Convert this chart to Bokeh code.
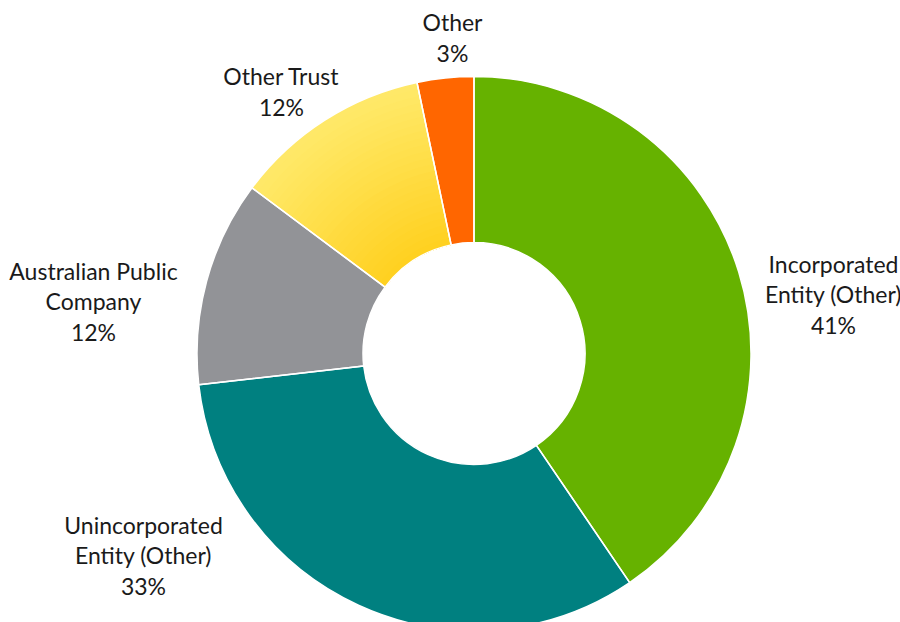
import math
from bokeh.plotting import figure
from bokeh.models import ColumnDataSource
from bokeh.core.properties import value
from bokeh.embed import file_html
from bokeh.resources import INLINE

# ---- data ----
categories = ["Incorporated\nEntity (Other)", "Unincorporated\nEntity (Other)",
              "Australian Public\nCompany", "Other Trust", "Other"]
shares = [40.5, 32.7, 12.0, 11.5, 3.3]
pct_labels = ["41%", "33%", "12%", "12%", "3%"]
colors = ["#66B200", "#008080", "#929397", "#FFE868", "#FF6600"]

# ---- layout (pixels) ----
W, H = 900, 622
CX, CY = 473.5, 353.0          # donut centre in window pixels
R_OUT, R_IN = 277, 111
label_pos = [(833, 294), (143, 555), (93, 301), (281, 91), (452, 37)]

def dx(px):
    return px - CX

def dy(py):
    return CY - py

p = figure(width=W, height=H, output_backend="svg", toolbar_location=None,
           x_range=(dx(0), dx(W)), y_range=(dy(H), dy(0)),
           min_border=0, outline_line_color=None)
p.axis.visible = False
p.grid.visible = False
p.background_fill_color = "white"
p.border_fill_color = "white"

total = sum(shares)
starts, ends = [], []
acc = 0.0
for s in shares:
    starts.append(math.pi / 2 - 2 * math.pi * acc / total)
    acc += s
    ends.append(math.pi / 2 - 2 * math.pi * acc / total)

src = ColumnDataSource(dict(x=[0] * len(shares), y=[0] * len(shares),
                            start=starts, end=ends, color=colors))
p.annular_wedge(x="x", y="y", inner_radius=R_IN, outer_radius=R_OUT,
                start_angle="start", end_angle="end", direction="clock",
                fill_color="color", line_color=None, source=src)

# gradient on the "Other Trust" slice (light outside -> deeper yellow inside)
k = 3
light = (255, 234, 106)
dark = (255, 208, 30)
n = 24
for i in range(1, n + 1):
    t = i / n
    r = R_OUT - (R_OUT - R_IN) * t
    c = tuple(int(light[j] + (dark[j] - light[j]) * t) for j in range(3))
    p.annular_wedge(x=0, y=0, inner_radius=R_IN, outer_radius=r,
                    start_angle=starts[k], end_angle=ends[k], direction="clock",
                    fill_color="#%02x%02x%02x" % c, line_color=None)

# white separators
p.annular_wedge(x="x", y="y", inner_radius=R_IN, outer_radius=R_OUT,
                start_angle="start", end_angle="end", direction="clock",
                fill_alpha=0, line_color="white", line_width=1.5, source=src)

texts = [c + "\n" + l for c, l in zip(categories, pct_labels)]
lsrc = ColumnDataSource(dict(x=[dx(a) for a, b in label_pos],
                             y=[dy(b) for a, b in label_pos], t=texts))
p.text(x="x", y="y", text="t", source=lsrc, text_align="center",
       text_baseline="middle", text_font=value("Lato"), text_font_size="23px",
       text_color="#1a1a1a", text_line_height=1.075)

open("out.html", "w").write(file_html(p, INLINE))
